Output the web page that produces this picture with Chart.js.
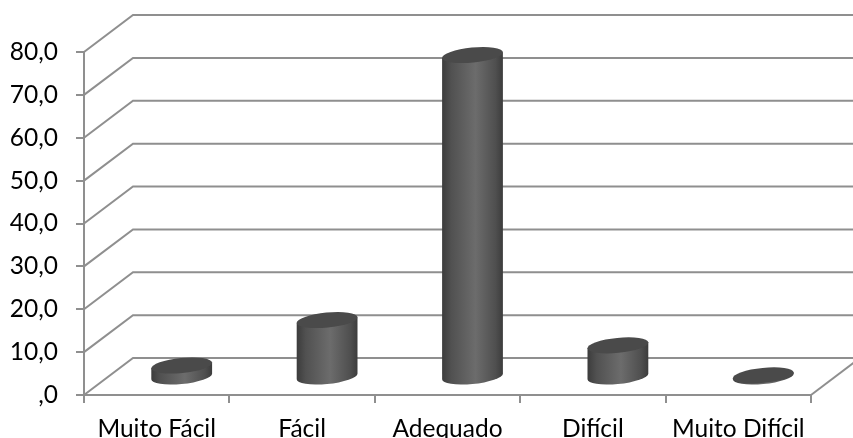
<!DOCTYPE html>
<html>
<head>
<meta charset="utf-8">
<script src="https://cdn.jsdelivr.net/npm/chart.js@4"></script>
<style>
  html, body { margin: 0; padding: 0; background: #fff; overflow: hidden; }
  canvas { display: block; }
</style>
</head>
<body>
<canvas id="chart" width="853" height="438"></canvas>
<script>
const categories = ['Muito Fácil', 'Fácil', 'Adequado', 'Difícil', 'Muito Difícil'];
const values = [2.8, 13.4, 75.2, 7.5, 0.5];
const yTickLabels = [',0', '10,0', '20,0', '30,0', '40,0', '50,0', '60,0', '70,0', '80,0'];

const GRID_COLOR = '#8f8f8f';
const DEPTH_X = 49;
const DEPTH_Y = -37;
const TILT = -5.6 * Math.PI / 180;
const MINOR_AXIS = 7.5;

// back wall, side wall and floor behind the bars
const walls = {
    id: 'walls',
    beforeDatasetsDraw(chart) {
        const { ctx, scales: { x, y }, chartArea: area } = chart;
        ctx.save();
        ctx.strokeStyle = GRID_COLOR;
        ctx.lineWidth = 2;
        y.ticks.forEach(tick => {
            const py = y.getPixelForValue(tick.value);
            ctx.beginPath();
            ctx.moveTo(area.left, py);
            ctx.lineTo(area.left + DEPTH_X, py + DEPTH_Y);
            ctx.lineTo(area.right + DEPTH_X, py + DEPTH_Y);
            ctx.stroke();
        });
        ctx.beginPath();
        ctx.moveTo(area.right, y.getPixelForValue(0));
        ctx.lineTo(area.right + DEPTH_X, y.getPixelForValue(0) + DEPTH_Y);
        ctx.stroke();
        ctx.restore();
    }
};

// bars are drawn as cylinders sitting half way into the floor depth
const cylinders = {
    id: 'cylinders',
    afterDatasetsDraw(chart) {
        const { ctx } = chart;
        chart.getDatasetMeta(0).data.forEach(bar => {
            const cx = bar.x + DEPTH_X / 2 + 0.5;
            const top = bar.y + DEPTH_Y / 2 + 1;
            const base = bar.base + DEPTH_Y / 2 + 1;
            const a = bar.width / 2;
            const b = MINOR_AXIS;
            // angle on the ellipse where the edge runs vertical
            const t = Math.atan(-(b / a) * Math.tan(TILT));
            const edgeX = a * Math.cos(t) * Math.cos(TILT) - b * Math.sin(t) * Math.sin(TILT);
            const edgeY = a * Math.cos(t) * Math.sin(TILT) + b * Math.sin(t) * Math.cos(TILT);

            const grad = ctx.createLinearGradient(cx - edgeX, 0, cx + edgeX, 0);
            grad.addColorStop(0, '#3c3c3c');
            grad.addColorStop(0.15, '#515151');
            grad.addColorStop(0.55, '#6c6c6c');
            grad.addColorStop(0.88, '#4f4f4f');
            grad.addColorStop(1, '#3c3c3c');

            ctx.save();
            ctx.fillStyle = grad;
            ctx.beginPath();
            ctx.moveTo(cx - edgeX, top - edgeY);
            ctx.lineTo(cx - edgeX, base - edgeY);
            ctx.ellipse(cx, base, a, b, TILT, Math.PI + t, t, true);
            ctx.lineTo(cx + edgeX, top + edgeY);
            ctx.closePath();
            ctx.fill();

            ctx.fillStyle = '#4a4a4a';
            ctx.beginPath();
            ctx.ellipse(cx, top, a, b, TILT, 0, Math.PI * 2);
            ctx.fill();
            ctx.restore();
        });
    }
};

const axisFont = { family: 'Lato', size: 24.5 };

new Chart(document.getElementById('chart'), {
    type: 'bar',
    data: {
        labels: categories,
        datasets: [{
            data: values,
            backgroundColor: 'transparent',
            barPercentage: 0.42,
            categoryPercentage: 1
        }]
    },
    options: {
        responsive: false,
        animation: false,
        layout: { padding: { top: 52, right: 42, left: 0, bottom: 0 } },
        plugins: { legend: { display: false }, tooltip: { enabled: false } },
        scales: {
            x: {
                afterFit: scale => { scale.height = 43; },
                grid: { drawOnChartArea: false, color: GRID_COLOR, lineWidth: 2, tickLength: 8 },
                border: { color: GRID_COLOR, width: 2 },
                ticks: { color: '#000', font: axisFont, padding: 11, maxRotation: 0, autoSkip: false }
            },
            y: {
                min: 0,
                max: 80,
                afterFit: scale => { scale.width = 84; },
                grid: { drawOnChartArea: false, color: GRID_COLOR, lineWidth: 2, tickLength: 8 },
                border: { color: GRID_COLOR, width: 2 },
                ticks: {
                    stepSize: 10,
                    color: '#000',
                    font: axisFont,
                    padding: 18,
                    callback: (value, index) => yTickLabels[index]
                }
            }
        }
    },
    plugins: [walls, cylinders]
});
</script>
</body>
</html>
